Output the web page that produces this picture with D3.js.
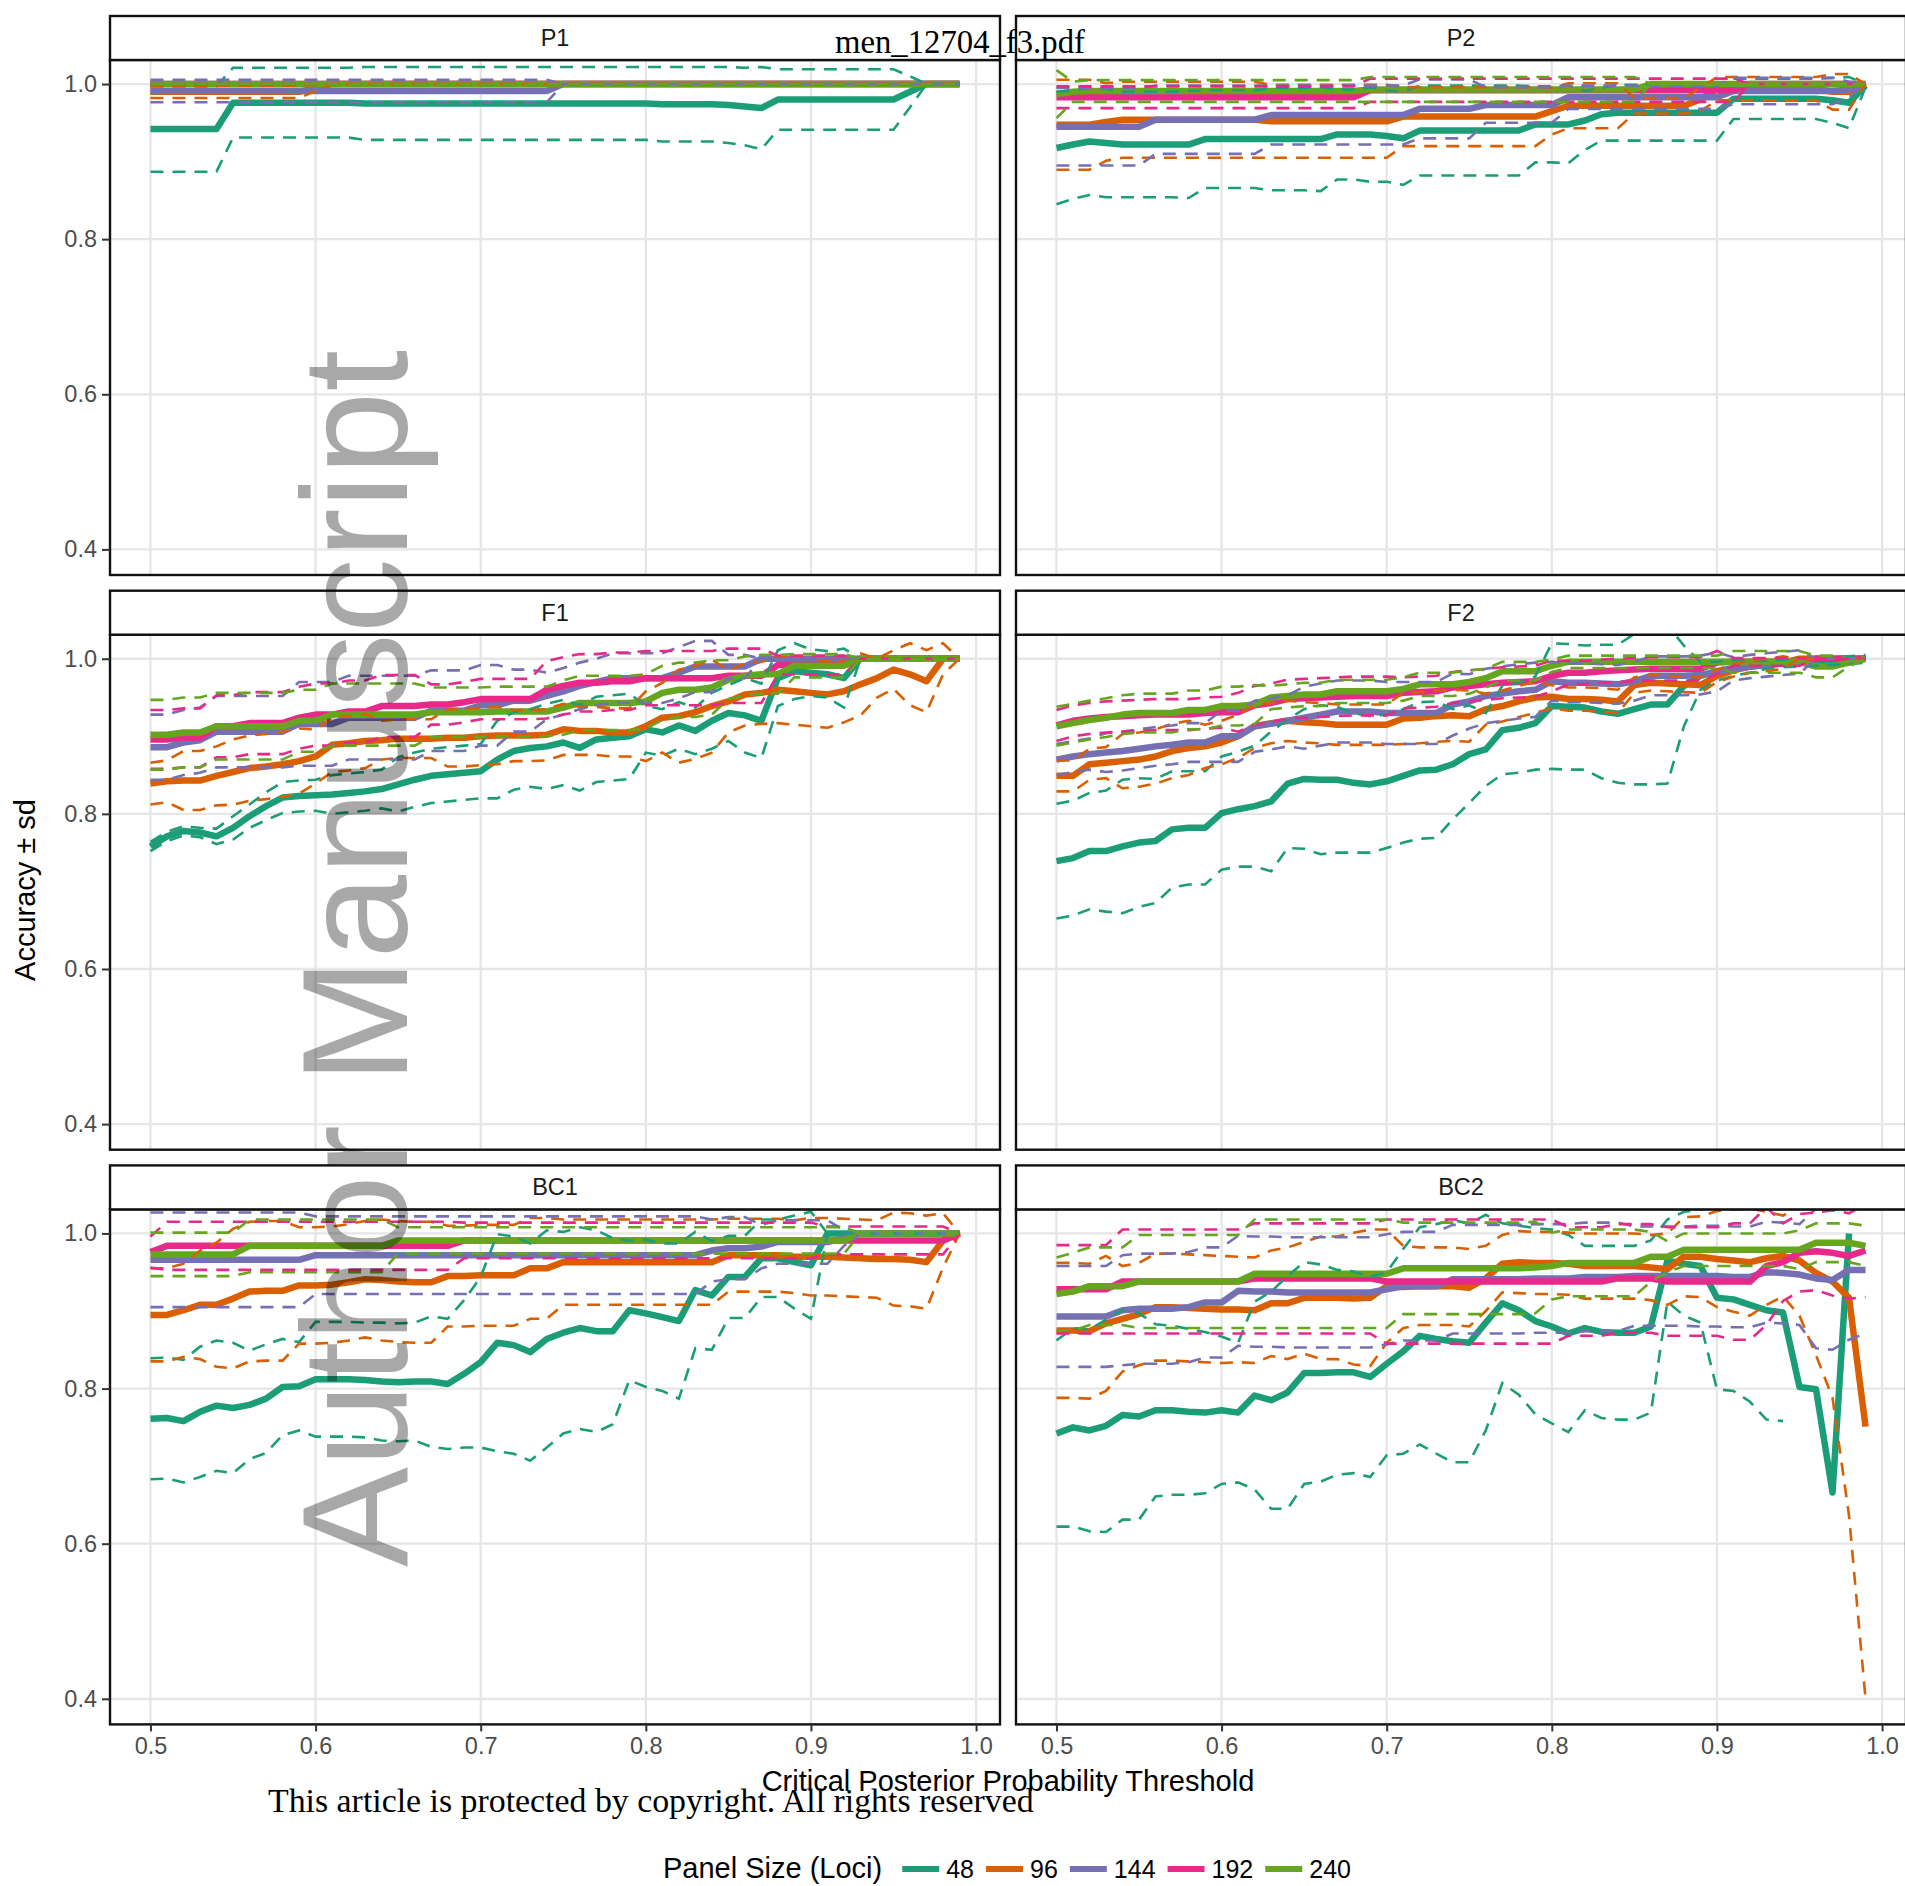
<!DOCTYPE html>
<html>
<head>
<meta charset="utf-8">
<script src="https://cdn.jsdelivr.net/npm/d3@7"></script>
<style>
  body { margin: 0; background: #fff; }
  svg { display: block; }
</style>
</head>
<body>
<svg id="chart" width="1905" height="1886"></svg>
<script>
// ---- data ----
const thresholds = [0.50,0.51,0.52,0.53,0.54,0.55,0.56,0.57,0.58,0.59,
  0.60,0.61,0.62,0.63,0.64,0.65,0.66,0.67,0.68,0.69,
  0.70,0.71,0.72,0.73,0.74,0.75,0.76,0.77,0.78,0.79,
  0.80,0.81,0.82,0.83,0.84,0.85,0.86,0.87,0.88,0.89,
  0.90,0.91,0.92,0.93,0.94,0.95,0.96,0.97,0.98,0.99];
const panels = ["P1", "P2", "F1", "F2", "BC1", "BC2"];
const sizes = ["48", "96", "144", "192", "240"];
const colors = ["#1B9E77", "#D95F02", "#7570B3", "#E7298A", "#66A61E"];
const xTicks = [0.5, 0.6, 0.7, 0.8, 0.9, 1.0];
const yTicks = [0.4, 0.6, 0.8, 1.0];

// P1
const P1_48 = [.942,.942,.942,.942,.942,.976,.976,.976,.976,.976, .976,.976,.976,.975,.975,.975,.975,.975,.975,.975, .975,.975,.975,.975,.975,.975,.975,.975,.975,.975, .975,.974,.974,.974,.974,.973,.971,.969,.980,.980, .980,.980,.980,.980,.980,.980,.990,1,1,1];
const P1_48_sd = [.055,.055,.055,.055,.055,.045,.045,.045,.045,.045, .045,.045,.045,.047,.047,.047,.047,.047,.047,.047, .047,.047,.047,.047,.047,.047,.047,.047,.047,.047, .047,.048,.048,.048,.048,.049,.050,.053,.039,.039, .039,.039,.039,.039,.039,.039,.020,0,0,0];
const P1_96 = [.99,.99,.99,.99,.99,.99,.99,.99,.99,.99, .995,1,1,1,1,1,1,1,1,1, 1,1,1,1,1,1,1,1,1,1, 1,1,1,1,1,1,1,1,1,1, 1,1,1,1,1,1,1,1,1,1];
const P1_96_sd = [.008,.008,.008,.008,.008,.008,.008,.008,.008,.008, .004,0,0,0,0,0,0,0,0,0, 0,0,0,0,0,0,0,0,0,0, 0,0,0,0,0,0,0,0,0,0, 0,0,0,0,0,0,0,0,0,0];
const P1_144 = [.991,.991,.991,.991,.991,.991,.991,.991,.991,.991, .991,.991,.991,.991,.991,.991,.991,.991,.991,.991, .991,.991,.991,.991,.991,1,1,1,1,1, 1,1,1,1,1,1,1,1,1,1, 1,1,1,1,1,1,1,1,1,1];
const P1_144_sd = [.0145,.0145,.0145,.0145,.0145,.0145,.0145,.0145,.0145,.0145, .0145,.0145,.0145,.0145,.0145,.0145,.0145,.0145,.0145,.0145, .0145,.0145,.0145,.0145,.0145,0,0,0,0,0, 0,0,0,0,0,0,0,0,0,0, 0,0,0,0,0,0,0,0,0,0];
const P1_192 = [1,1,1,1,1,1,1,1,1,1, 1,1,1,1,1,1,1,1,1,1, 1,1,1,1,1,1,1,1,1,1, 1,1,1,1,1,1,1,1,1,1, 1,1,1,1,1,1,1,1,1,1];
const P1_192_sd = [0,0,0,0,0,0,0,0,0,0, 0,0,0,0,0,0,0,0,0,0, 0,0,0,0,0,0,0,0,0,0, 0,0,0,0,0,0,0,0,0,0, 0,0,0,0,0,0,0,0,0,0];
const P1_240 = [1,1,1,1,1,1,1,1,1,1, 1,1,1,1,1,1,1,1,1,1, 1,1,1,1,1,1,1,1,1,1, 1,1,1,1,1,1,1,1,1,1, 1,1,1,1,1,1,1,1,1,1];
const P1_240_sd = [0,0,0,0,0,0,0,0,0,0, 0,0,0,0,0,0,0,0,0,0, 0,0,0,0,0,0,0,0,0,0, 0,0,0,0,0,0,0,0,0,0, 0,0,0,0,0,0,0,0,0,0];

// P2
const P2_48 = [.9175,.922,.926,.924,.922,.922,.922,.922,.922,.929, .929,.929,.929,.929,.929,.929,.929,.935,.935,.935, .933,.930,.940,.940,.940,.940,.940,.940,.940,.948, .948,.948,.953,.961,.963,.963,.963,.963,.963,.963, .963,.981,.981,.981,.981,.981,.981,.979,.976,.998];
const P2_48_sd = [.0725,.070,.069,.070,.068,.068,.068,.068,.069,.063, .063,.063,.063,.066,.066,.066,.067,.058,.058,.061, .059,.060,.058,.058,.058,.058,.058,.058,.058,.049, .049,.050,.038,.034,.036,.036,.036,.036,.036,.036, .036,.026,.026,.026,.026,.026,.026,.029,.033,.002];
const P2_96 = [.9475,.9475,.9475,.951,.954,.954,.954,.954,.954,.954, .954,.954,.954,.952,.952,.952,.952,.952,.952,.952, .952,.958,.958,.958,.958,.958,.958,.958,.958,.958, .965,.972,.972,.972,.972,.972,.972,.972,.972,.980, .994,.994,.994,.994,.994,.994,.994,.990,.990,1];
const P2_96_sd = [.058,.058,.058,.050,.049,.049,.049,.049,.049,.049, .049,.049,.049,.047,.047,.047,.047,.047,.047,.047, .047,.038,.038,.038,.038,.038,.038,.038,.038,.038, .030,.029,.029,.029,.029,.010,.010,.010,.010,.015, .015,.015,.015,.015,.015,.015,.015,.023,.023,0];
const P2_144 = [.945,.945,.945,.945,.945,.945,.954,.954,.954,.954, .954,.954,.954,.960,.960,.960,.960,.960,.960,.960, .960,.960,.968,.968,.968,.968,.973,.973,.973,.973, .973,.983,.983,.983,.983,.983,.983,.983,.983,.983, .983,.991,.991,.991,.991,.991,.991,.991,.993,1];
const P2_144_sd = [.05,.05,.05,.05,.05,.05,.044,.044,.044,.044, .044,.044,.044,.038,.038,.038,.038,.038,.038,.038, .038,.038,.038,.038,.038,.038,.023,.023,.023,.023, .023,.015,.015,.015,.015,.015,.015,.015,.015,.015, .015,.017,.017,.017,.017,.017,.017,.017,.010,0];
const P2_192 = [.983,.983,.983,.983,.983,.983,.983,.983,.983,.983, .983,.983,.983,.983,.983,.983,.983,.983,.983,.992, .992,.992,.992,.992,.992,.992,.992,.992,.992,.992, .992,.992,.992,.992,.992,.992,.992,.992,.992,.992, .992,.992,1,1,1,1,1,1,1,1];
const P2_192_sd = [.014,.014,.014,.014,.014,.014,.014,.014,.014,.014, .014,.014,.014,.014,.014,.014,.014,.014,.014,.015, .015,.015,.015,.015,.015,.015,.015,.015,.015,.015, .015,.015,.015,.015,.015,.015,.015,.015,.015,.015, .015,.015,0,0,0,0,0,0,0,0];
const P2_240 = [.987,.990,.991,.991,.991,.991,.991,.991,.991,.991, .991,.991,.991,.991,.991,.991,.991,.991,.991,.993, .993,.993,.993,.993,.993,.993,.993,.993,.993,.993, .993,.993,.993,.993,.993,.993,1,1,1,1, 1,1,1,1,1,1,1,1,1,1];
const P2_240_sd = [.031,.013,.014,.014,.014,.014,.014,.014,.014,.014, .014,.014,.014,.014,.014,.014,.014,.014,.014,.016, .016,.016,.016,.016,.016,.016,.016,.016,.016,.016, .016,.016,.016,.016,.016,.016,0,0,0,0, 0,0,0,0,0,0,0,0,0,0];

// F1
const F1_48 = [.758,.771,.778,.776,.771,.782,.797,.810,.821,.823, .824,.825,.827,.829,.832,.838,.844,.849,.851,.853, .855,.870,.881,.885,.887,.892,.885,.896,.898,.900, .909,.905,.914,.907,.920,.930,.927,.920,.975,.984, .982,.980,.975,1,1,1,1,1,1,1];
const F1_48_sd = [.006,.006,.006,.006,.010,.015,.015,.018,.020,.020, .020,.025,.025,.025,.025,.035,.035,.035,.035,.035, .035,.050,.050,.050,.055,.055,.055,.055,.055,.055, .030,.030,.030,.030,.036,.036,.048,.048,.036,.036, .030,.030,.038,0,0,0,0,0,0,0];
const F1_96 = [.839,.842,.843,.843,.849,.854,.859,.861,.864,.868, .874,.889,.891,.894,.895,.897,.897,.897,.898,.898, .900,.901,.901,.901,.902,.909,.907,.907,.905,.905, .913,.924,.926,.931,.939,.945,.954,.956,.960,.958, .956,.954,.958,.967,.975,.986,.980,.971,1,1];
const F1_96_sd = [.027,.027,.038,.038,.038,.042,.042,.042,.042,.042, .035,.035,.035,.035,.025,.025,.025,.025,.037,.037, .037,.037,.033,.033,.033,.033,.031,.031,.031,.031, .045,.045,.060,.060,.060,.040,.040,.040,.043,.043, .043,.043,.040,.040,.025,.025,.040,.040,.020,0];
const F1_144 = [.886,.886,.892,.895,.906,.906,.906,.906,.906,.916, .916,.916,.924,.924,.924,.924,.924,.933,.933,.933, .940,.940,.946,.946,.952,.958,.965,.970,.975,.975, .975,.975,.982,.990,.990,.990,.990,1,1,1, 1,1,1,1,1,1,1,1,1,1];
const F1_144_sd = [.042,.042,.042,.042,.046,.046,.046,.046,.046,.054, .054,.054,.054,.054,.054,.054,.054,.052,.052,.052, .052,.052,.040,.040,.030,.030,.030,.030,.032,.032, .032,.032,.033,.033,.033,.015,.015,0,0,0, 0,0,0,0,0,0,0,0,0,0];
const F1_192 = [.896,.896,.898,.898,.913,.913,.917,.917,.917,.924, .928,.928,.932,.932,.939,.939,.939,.941,.941,.944, .948,.948,.948,.948,.960,.965,.969,.969,.971,.971, .975,.975,.975,.975,.975,.978,.978,.978,.992,.992, .992,.992,.992,1,1,1,1,1,1,1];
const F1_192_sd = [.038,.038,.038,.038,.040,.040,.040,.040,.040,.040, .040,.040,.040,.040,.040,.040,.040,.026,.026,.026, .026,.026,.026,.026,.037,.037,.037,.037,.037,.037, .035,.035,.035,.035,.035,.035,.035,.035,.012,.012, .012,.012,.012,0,0,0,0,0,0,0];
const F1_240 = [.902,.902,.905,.905,.913,.913,.913,.913,.913,.920, .920,.928,.928,.928,.928,.928,.928,.931,.931,.931, .931,.932,.932,.932,.932,.937,.943,.943,.943,.943, .945,.956,.960,.960,.963,.973,.978,.980,.980,.991, .991,.991,.991,1,1,1,1,1,1,1];
const F1_240_sd = [.045,.045,.045,.045,.043,.043,.043,.043,.043,.040, .040,.040,.040,.040,.040,.040,.040,.032,.032,.032, .032,.032,.032,.032,.032,.035,.035,.035,.035,.035, .035,.035,.035,.035,.035,.025,.025,.025,.025,.015, .015,.015,.015,0,0,0,0,0,0,0];

// F2
const F2_48 = [.739,.743,.752,.752,.758,.763,.765,.780,.782,.782, .801,.806,.810,.816,.839,.845,.844,.844,.840,.838, .842,.849,.856,.857,.864,.877,.883,.908,.911,.917, .939,.938,.937,.932,.929,.935,.941,.941,.965,.978, .984,.988,.990,.992,.994,.995,.996,.997,.998,1];
const F2_48_sd = [.074,.074,.075,.078,.086,.083,.080,.075,.073,.073, .073,.074,.078,.090,.083,.090,.096,.094,.090,.088, .086,.086,.088,.088,.071,.063,.047,.057,.058,.060, .081,.081,.080,.086,.089,.097,.103,.102,.052,.018, .012,.010,.008,.005,.005,.005,.005,.005,.005,.005];
const F2_96 = [.849,.849,.864,.866,.868,.870,.874,.881,.885,.887, .892,.900,.913,.917,.920,.918,.917,.915,.915,.915, .915,.923,.924,.926,.927,.926,.935,.939,.945,.950, .951,.948,.948,.947,.945,.966,.969,.968,.967,.966, .978,.985,.990,.992,.995,1,1,1,1,1];
const F2_96_sd = [.020,.020,.020,.020,.035,.035,.035,.035,.035,.028, .028,.028,.028,.026,.026,.026,.026,.026,.026,.026, .026,.033,.033,.033,.033,.033,.020,.020,.020,.020, .015,.015,.015,.015,.015,.010,.010,.010,.010,.010, .008,.008,.008,.008,.008,0,0,0,0,0];
const F2_144 = [.870,.874,.877,.879,.881,.884,.887,.889,.892,.892, .900,.900,.913,.916,.920,.924,.928,.932,.932,.932, .930,.930,.930,.930,.941,.945,.952,.955,.958,.960, .971,.969,.969,.968,.967,.971,.978,.978,.978,.979, .983,.987,.990,.992,.994,.996,1,1,1,1];
const F2_144_sd = [.020,.020,.020,.025,.025,.025,.025,.025,.025,.025, .033,.033,.033,.033,.033,.040,.040,.040,.040,.040, .040,.040,.040,.040,.040,.035,.035,.035,.035,.035, .025,.025,.025,.025,.025,.025,.025,.025,.025,.025, .025,.015,.015,.015,.015,.015,0,0,0,0];
const F2_192 = [.914,.920,.923,.925,.926,.927,.928,.928,.928,.930, .931,.931,.940,.943,.948,.949,.950,.951,.952,.952, .952,.956,.957,.958,.963,.965,.967,.969,.970,.971, .978,.982,.982,.984,.985,.986,.987,.987,.987,.987, .995,.996,.996,.996,.996,.996,1,1,1,1];
const F2_192_sd = [.020,.020,.020,.020,.020,.020,.020,.020,.020,.020, .020,.025,.025,.025,.025,.025,.025,.025,.025,.025, .025,.020,.020,.020,.020,.020,.020,.020,.020,.020, .020,.015,.015,.015,.015,.015,.015,.015,.015,.015, .015,.005,.005,.005,.005,.005,0,0,0,0];
const F2_240 = [.913,.917,.921,.924,.928,.930,.930,.930,.934,.934, .939,.939,.941,.950,.952,.954,.954,.958,.958,.958, .958,.961,.967,.967,.967,.970,.975,.984,.984,.984, .991,.996,.996,.996,.996,.996,.996,.996,.996,.996, .996,.996,.996,.996,.996,.996,.990,.990,.995,1];
const F2_240_sd = [.025,.025,.025,.025,.025,.025,.025,.025,.025,.025, .025,.025,.025,.015,.015,.015,.015,.015,.015,.015, .015,.015,.015,.015,.015,.015,.012,.012,.012,.012, .008,.008,.008,.008,.008,.008,.008,.008,.008,.008, .008,.014,.014,.014,.014,.014,.014,.014,.005,0];

// BC1
const BC1_48 = [.761,.762,.758,.770,.778,.775,.779,.787,.802,.803, .812,.812,.812,.811,.809,.808,.809,.809,.806,.819, .834,.859,.856,.847,.864,.872,.878,.874,.874,.901, .897,.892,.887,.927,.920,.944,.944,.968,.968,.963, .959,1,1,1,1,1,1,1,1,1];
const BC1_48_sd = [.078,.078,.079,.084,.084,.084,.070,.070,.062,.057, .074,.074,.074,.074,.076,.076,.076,.084,.084,.095, .110,.140,.140,.140,.140,.130,.130,.130,.120,.090, .095,.095,.100,.075,.070,.053,.053,.050,.050,.060, .069,0,0,0,0,0,0,0,0,0];
const BC1_96 = [.895,.895,.901,.908,.908,.916,.925,.926,.926,.933, .933,.934,.937,.941,.940,.938,.937,.937,.945,.945, .946,.946,.946,.955,.955,.963,.963,.963,.963,.963, .963,.963,.963,.963,.963,.972,.972,.972,.972,.970, .970,.970,.969,.968,.967,.967,.966,.963,.991,1];
const BC1_96_sd = [.060,.060,.060,.070,.080,.090,.090,.090,.090,.075, .075,.075,.075,.075,.078,.078,.078,.078,.065,.065, .065,.065,.065,.065,.065,.055,.055,.055,.055,.055, .055,.055,.055,.055,.055,.047,.047,.047,.047,.047, .050,.050,.050,.050,.050,.060,.060,.060,.035,0];
const BC1_144 = [.966,.966,.966,.966,.966,.966,.966,.966,.966,.966, .972,.972,.972,.972,.972,.972,.972,.972,.972,.972, .972,.972,.972,.972,.972,.972,.972,.972,.972,.972, .972,.972,.972,.972,.978,.981,.981,.983,.989,.989, .989,.989,.994,1,1,1,1,1,1,1];
const BC1_144_sd = [.061,.061,.061,.061,.061,.061,.061,.061,.061,.061, .050,.050,.050,.050,.050,.050,.050,.050,.050,.050, .050,.050,.050,.050,.050,.050,.050,.050,.050,.050, .050,.050,.050,.050,.040,.040,.040,.028,.028,.028, .028,.028,.010,0,0,0,0,0,0,0];
const BC1_192 = [.976,.984,.984,.984,.984,.984,.984,.984,.984,.984, .984,.984,.984,.984,.984,.984,.984,.984,.984,.991, .991,.991,.991,.991,.991,.991,.991,.991,.991,.991, .991,.991,.991,.991,.991,.991,.991,.991,.991,.991, .991,.991,.991,.991,.991,.991,.991,.991,.991,1];
const BC1_192_sd = [.020,.031,.031,.031,.031,.031,.031,.031,.031,.031, .031,.031,.031,.031,.031,.031,.031,.031,.031,.023, .023,.023,.023,.023,.023,.023,.023,.023,.023,.023, .023,.023,.023,.023,.023,.023,.023,.023,.023,.023, .023,.018,.018,.018,.018,.018,.018,.018,.018,0];
const BC1_240 = [.973,.973,.973,.973,.973,.973,.984,.984,.984,.984, .984,.984,.984,.984,.984,.991,.991,.991,.991,.991, .991,.991,.991,.991,.991,.991,.991,.991,.991,.991, .991,.991,.991,.991,.991,.991,.991,.991,.991,.991, .991,.991,.991,1,1,1,1,1,1,1];
const BC1_240_sd = [.028,.028,.028,.028,.028,.028,.034,.034,.034,.034, .034,.034,.034,.034,.034,.017,.017,.017,.017,.017, .017,.017,.017,.017,.017,.017,.017,.017,.017,.017, .017,.017,.017,.017,.017,.017,.017,.017,.017,.017, .017,.017,.017,0,0,0,0,0,0,0];

// BC2
const BC2_48 = [.742,.750,.746,.752,.766,.764,.772,.772,.770,.769, .772,.769,.791,.785,.795,.820,.820,.821,.821,.815, .832,.848,.868,.864,.861,.859,.885,.910,.901,.887, .880,.871,.878,.873,.872,.872,.880,.965,.961,.958, .917,.915,.908,.901,.898,.802,.799,.666,1,null];
const BC2_48_sd = [.120,.128,.130,.137,.135,.133,.111,.109,.107,.104, .095,.090,.121,.140,.150,.143,.140,.132,.130,.129, .118,.132,.140,.148,.156,.154,.139,.103,.109,.120, .125,.127,.106,.111,.112,.112,.111,.053,.067,.073, .118,.118,.125,.141,.140,null,null,null,null,null];
const BC2_96 = [.875,.875,.874,.884,.890,.896,.905,.905,.904,.903, .902,.902,.901,.910,.910,.917,.917,.917,.916,.917, .932,.931,.932,.932,.932,.930,.942,.961,.963,.962, .962,.961,.958,.958,.958,.958,.956,.954,.970,.970, .967,.965,.963,.968,.971,.965,.949,.938,.917,.751];
const BC2_96_sd = [.087,.087,.087,.087,.068,.066,.069,.069,.069,.069, .069,.068,.068,.068,.072,.072,.079,.079,.085,.088, .073,.053,.050,.050,.050,.050,.042,.037,.040,.040, .040,.040,.042,.042,.042,.042,.042,.046,.051,.052, .062,.066,.069,.060,.052,.071,.106,.150,.281,.351];
const BC2_144 = [.893,.893,.893,.893,.901,.903,.903,.903,.905,.911, .911,.926,.925,.925,.924,.924,.924,.924,.924,.924, .928,.932,.932,.932,.941,.941,.941,.941,.941,.942, .942,.942,.944,.944,.944,.945,.945,.945,.945,.945, .945,.944,.944,.950,.949,.947,.942,.940,.953,.953];
const BC2_144_sd = [.065,.065,.065,.065,.071,.071,.071,.071,.071,.071, .071,.071,.071,.071,.071,.071,.071,.071,.071,.071, .071,.070,.070,.070,.070,.070,.070,.070,.070,.070, .070,.070,.070,.070,.070,.064,.064,.064,.064,.065, .065,.065,.065,.065,.065,.065,.090,.090,.090,.082];
const BC2_192 = [.928,.928,.928,.928,.938,.938,.938,.938,.938,.938, .938,.938,.942,.942,.942,.942,.942,.942,.942,.942, .938,.938,.938,.938,.938,.938,.938,.938,.938,.938, .938,.938,.938,.938,.942,.942,.942,.938,.938,.938, .938,.938,.938,.958,.963,.975,.977,.975,.971,.978];
const BC2_192_sd = [.057,.057,.057,.057,.067,.067,.067,.067,.067,.067, .067,.067,.071,.071,.071,.071,.071,.071,.071,.071, .080,.080,.080,.080,.080,.080,.080,.080,.080,.080, .080,.070,.070,.070,.070,.070,.070,.070,.070,.070, .070,.075,.075,.076,.050,.050,.050,.055,.055,.060];
const BC2_240 = [.922,.925,.932,.932,.932,.938,.938,.938,.938,.938, .938,.938,.948,.948,.948,.948,.948,.948,.948,.948, .948,.955,.955,.955,.955,.955,.955,.955,.955,.956, .958,.962,.962,.962,.962,.962,.970,.970,.979,.979, .979,.979,.979,.979,.979,.979,.988,.988,.988,.984];
const BC2_240_sd = [.047,.050,.050,.050,.050,.060,.060,.060,.060,.060, .060,.060,.070,.070,.070,.070,.070,.070,.070,.070, .070,.059,.059,.059,.059,.059,.059,.059,.059,.059, .043,.043,.043,.043,.043,.043,.032,.020,.021,.021, .021,.021,.021,.021,.021,.025,.025,.025,.025,.026];

// table the drawing code uses, built from the arrays above
const meanBy = {
  P1: [P1_48, P1_96, P1_144, P1_192, P1_240],
  P2: [P2_48, P2_96, P2_144, P2_192, P2_240],
  F1: [F1_48, F1_96, F1_144, F1_192, F1_240],
  F2: [F2_48, F2_96, F2_144, F2_192, F2_240],
  BC1: [BC1_48, BC1_96, BC1_144, BC1_192, BC1_240],
  BC2: [BC2_48, BC2_96, BC2_144, BC2_192, BC2_240]
};
const sdBy = {
  P1: [P1_48_sd, P1_96_sd, P1_144_sd, P1_192_sd, P1_240_sd],
  P2: [P2_48_sd, P2_96_sd, P2_144_sd, P2_192_sd, P2_240_sd],
  F1: [F1_48_sd, F1_96_sd, F1_144_sd, F1_192_sd, F1_240_sd],
  F2: [F2_48_sd, F2_96_sd, F2_144_sd, F2_192_sd, F2_240_sd],
  BC1: [BC1_48_sd, BC1_96_sd, BC1_144_sd, BC1_192_sd, BC1_240_sd],
  BC2: [BC2_48_sd, BC2_96_sd, BC2_144_sd, BC2_192_sd, BC2_240_sd]
};

// ---- layout ----
const svg = d3.select('#chart');
const font = '"Liberation Sans", Arial, Helvetica, sans-serif';
const serif = '"Liberation Serif", "Times New Roman", serif';
const panelW = 890, plotH = 515, stripH = 44;
const colX = [110, 1016];
const rowTop = [16, 590.7, 1165.4];
const meanW = 6.5, sdW = 2.6;

function series(vals) {
  return thresholds.map((t, i) => ({ t: t, v: vals[i] }));
}

panels.forEach((name, p) => {
  const row = Math.floor(p / 2), col = p % 2;
  const x0 = colX[col];
  const top = rowTop[row] + stripH;
  const bottom = top + plotH;

  const x = d3.scaleLinear().domain([0.4755, 1.0145]).range([x0, x0 + panelW]);
  const y = d3.scaleLinear().domain([0.367, 1.031]).range([bottom, top]);

  const g = svg.append('g');
  const clipId = 'clip' + p;
  svg.append('clipPath').attr('id', clipId)
    .append('rect').attr('x', x0).attr('y', top).attr('width', panelW).attr('height', plotH);

  const inner = g.append('g').attr('clip-path', 'url(#' + clipId + ')');
  inner.append('rect').attr('x', x0).attr('y', top).attr('width', panelW).attr('height', plotH).attr('fill', '#fff');

  inner.selectAll('.vg').data(xTicks).enter().append('line')
    .attr('x1', d => x(d)).attr('x2', d => x(d)).attr('y1', top).attr('y2', bottom)
    .attr('stroke', '#e6e6e6').attr('stroke-width', 2.3);
  inner.selectAll('.hg').data(yTicks).enter().append('line')
    .attr('x1', x0).attr('x2', x0 + panelW).attr('y1', d => y(d)).attr('y2', d => y(d))
    .attr('stroke', '#e6e6e6').attr('stroke-width', 2.3);

  const line = d3.line().defined(d => d.v != null).x(d => x(d.t)).y(d => y(d.v));

  const means = meanBy[name], sds = sdBy[name];
  const upper = means.map((m, k) => m.map((v, i) => (v == null || sds[k][i] == null) ? null : v + sds[k][i]));
  const lower = means.map((m, k) => m.map((v, i) => (v == null || sds[k][i] == null) ? null : v - sds[k][i]));

  means.forEach((m, k) => {
    inner.append('path').datum(series(m)).attr('d', line)
      .attr('fill', 'none').attr('stroke', colors[k]).attr('stroke-width', meanW)
      .attr('stroke-linejoin', 'round');
  });
  [upper, lower].forEach(set => {
    set.forEach((m, k) => {
      inner.append('path').datum(series(m)).attr('d', line)
        .attr('fill', 'none').attr('stroke', colors[k]).attr('stroke-width', sdW)
        .attr('stroke-dasharray', '13,9');
    });
  });

  g.append('rect').attr('x', x0).attr('y', top).attr('width', panelW).attr('height', plotH)
    .attr('fill', 'none').attr('stroke', '#111').attr('stroke-width', 2.4);

  // strip
  g.append('rect').attr('x', x0).attr('y', rowTop[row]).attr('width', panelW).attr('height', stripH)
    .attr('fill', '#fff').attr('stroke', '#111').attr('stroke-width', 2.4);
  g.append('text').attr('x', x0 + panelW / 2).attr('y', rowTop[row] + stripH / 2)
    .attr('text-anchor', 'middle').attr('dominant-baseline', 'central')
    .attr('font-family', font).attr('font-size', 23.5).attr('fill', '#1a1a1a')
    .text(name);

  if (col === 0) {
    const ax = g.append('g').attr('transform', 'translate(' + x0 + ',0)')
      .call(d3.axisLeft(y).tickValues(yTicks).tickFormat(d3.format('.1f')).tickSize(8).tickPadding(5));
    ax.select('.domain').remove();
    ax.selectAll('line').attr('stroke', '#333').attr('stroke-width', 2);
    ax.selectAll('text').attr('font-family', font).attr('font-size', 23.5).attr('fill', '#4d4d4d');
  }
  if (row === 2) {
    const ax = g.append('g').attr('transform', 'translate(0,' + bottom + ')')
      .call(d3.axisBottom(x).tickValues(xTicks).tickFormat(d3.format('.1f')).tickSize(7).tickPadding(6));
    ax.select('.domain').remove();
    ax.selectAll('line').attr('stroke', '#333').attr('stroke-width', 2);
    ax.selectAll('text').attr('font-family', font).attr('font-size', 23.5).attr('fill', '#4d4d4d');
  }
});

// axis titles
svg.append('text').attr('x', 1008).attr('y', 1791)
  .attr('text-anchor', 'middle').attr('font-family', font).attr('font-size', 29).attr('fill', '#000')
  .text('Critical Posterior Probability Threshold');
svg.append('text').attr('transform', 'translate(35,890) rotate(-90)')
  .attr('text-anchor', 'middle').attr('font-family', font).attr('font-size', 29).attr('fill', '#000')
  .text('Accuracy \u00b1 sd');

// legend
const leg = svg.append('g');
const legTitle = leg.append('text').attr('x', 663).attr('y', 1878)
  .attr('font-family', font).attr('font-size', 29).attr('fill', '#000').text('Panel Size (Loci)');
let lx = 663 + legTitle.node().getComputedTextLength() + 20;
sizes.forEach((s, k) => {
  leg.append('line').attr('x1', lx).attr('x2', lx + 37).attr('y1', 1869).attr('y2', 1869)
    .attr('stroke', colors[k]).attr('stroke-width', 6);
  const t = leg.append('text').attr('x', lx + 44).attr('y', 1878)
    .attr('font-family', font).attr('font-size', 25).attr('fill', '#000').text(s);
  lx += 44 + t.node().getComputedTextLength() + 12;
});

// watermark and page texts
svg.append('text').attr('transform', 'translate(407,1567) rotate(-90)')
  .attr('font-family', font).attr('font-size', 150).attr('fill', '#000').attr('fill-opacity', 0.34)
  .text('Author Manuscript');

// serif page texts: size chosen so the printed width matches the page
function fitText(str, xPos, yPos, width) {
  const t = svg.append('text').attr('x', xPos).attr('y', yPos)
    .attr('font-family', serif).attr('font-size', 30).attr('fill', '#000').text(str);
  const w = t.node().getComputedTextLength();
  t.attr('font-size', 30 * width / w);
}
fitText('men_12704_f3.pdf', 835, 53, 250);
fitText('This article is protected by copyright. All rights reserved', 268, 1812, 766);
</script>
</body>
</html>
